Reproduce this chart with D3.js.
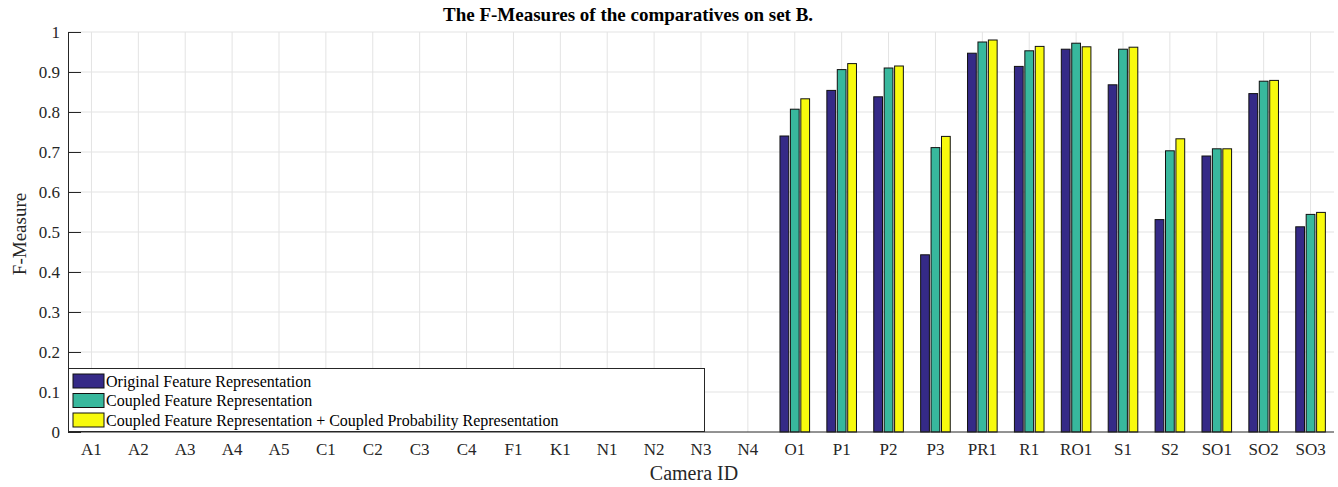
<!DOCTYPE html>
<html>
<head>
<meta charset="utf-8">
<script src="https://cdn.jsdelivr.net/npm/d3@7"></script>
<style>
body { margin: 0; background: #fff; }
text { font-family: "Liberation Serif", "DejaVu Serif", serif; }
</style>
</head>
<body>
<div id="chart"><svg width="1338" height="487"></svg></div>
<script>
var WIDTH = 1338;
var HEIGHT = 487;

var cameras = ['A1','A2','A3','A4','A5','C1','C2','C3','C4','F1','K1','N1','N2','N3','N4',
	'O1','P1','P2','P3','PR1','R1','RO1','S1','S2','SO1','SO2','SO3'];

var seriesNames = ['Original Feature Representation', 'Coupled Feature Representation',
	'Coupled Feature Representation + Coupled Probability Representation'];

var original = [0,0,0,0,0,0,0,0,0,0,0,0,0,0,0,
	0.740,0.854,0.838,0.443,0.947,0.914,0.957,0.868,0.531,0.690,0.846,0.513];
var coupled = [0,0,0,0,0,0,0,0,0,0,0,0,0,0,0,
	0.807,0.906,0.910,0.711,0.975,0.953,0.972,0.957,0.703,0.708,0.877,0.544];
var coupledProb = [0,0,0,0,0,0,0,0,0,0,0,0,0,0,0,
	0.833,0.921,0.915,0.739,0.980,0.964,0.963,0.962,0.733,0.708,0.879,0.549];

var yTicks = [0,0.1,0.2,0.3,0.4,0.5,0.6,0.7,0.8,0.9,1];
var colors = ['#352a87', '#38b89d', '#f8fa0d'];

var margin = {left: 68, right: 4, top: 32, bottom: 55};

function init() {
	var svg = d3.select('#chart').select('svg');
	var series = [original, coupled, coupledProb];

	var x = d3.scaleBand()
		.domain(cameras)
		.range([margin.left, WIDTH - margin.right])
		.paddingInner(0)
		.paddingOuter(0);

	var y = d3.scaleLinear()
		.domain([0, 1])
		.range([HEIGHT - margin.bottom, margin.top]);

	var step = x.bandwidth();
	var groupWidth = step * 0.667;
	var slot = groupWidth / 3;

	// grid
	svg.append('g').selectAll('line.h')
		.data(yTicks.slice(1))
		.enter().append('line')
		.attr('x1', margin.left).attr('x2', WIDTH - margin.right)
		.attr('y1', function(d) { return y(d); }).attr('y2', function(d) { return y(d); })
		.attr('stroke', '#e3e3e3').attr('stroke-width', 1);

	svg.append('g').selectAll('line.v')
		.data(cameras)
		.enter().append('line')
		.attr('x1', function(d) { return x(d) + step/2; })
		.attr('x2', function(d) { return x(d) + step/2; })
		.attr('y1', margin.top).attr('y2', y(0))
		.attr('stroke', '#e3e3e3').attr('stroke-width', 1);

	// bars
	series.forEach(function(vals, i) {
		svg.append('g').selectAll('rect')
			.data(vals)
			.enter().append('rect')
			.attr('x', function(d, j) { return x(cameras[j]) + step/2 - groupWidth/2 + i*slot + slot*0.08; })
			.attr('width', slot*0.84)
			.attr('y', function(d) { return y(d); })
			.attr('height', function(d) { return y(0) - y(d); })
			.attr('fill', colors[i])
			.attr('stroke', '#111')
			.attr('stroke-width', 1);
	});

	// axes
	var yAxis = d3.axisLeft(y).tickValues(yTicks).tickSize(-13).tickPadding(22)
		.tickFormat(function(d) { return d === 0 || d === 1 ? d : d3.format('.1f')(d); });
	var gy = svg.append('g')
		.attr('transform', 'translate(' + margin.left + ',0)')
		.call(yAxis);
	gy.select('.domain').attr('stroke', '#262626');
	gy.selectAll('.tick line').attr('stroke', '#262626');
	gy.selectAll('.tick text').attr('fill', '#262626').style('font-size', '17px')
		.attr('x', -8);

	var xAxis = d3.axisBottom(x).tickSize(0).tickPadding(11);
	var gx = svg.append('g')
		.attr('transform', 'translate(0,' + y(0) + ')')
		.call(xAxis);
	gx.select('.domain').attr('stroke', '#262626').attr('d', 'M' + margin.left + ',0H' + (WIDTH - margin.right));
	gx.selectAll('.tick text').attr('fill', '#262626').style('font-size', '17px');

	// legend
	var lg = svg.append('g');
	lg.append('rect')
		.attr('x', margin.left + 0.5).attr('y', 368.5)
		.attr('width', 636).attr('height', 63)
		.attr('fill', '#fff').attr('stroke', '#262626').attr('stroke-width', 1);
	seriesNames.forEach(function(name, i) {
		var cy = 381 + i*19.5;
		lg.append('rect')
			.attr('x', 73).attr('y', cy - 7)
			.attr('width', 31).attr('height', 14)
			.attr('fill', colors[i]).attr('stroke', '#111').attr('stroke-width', 1);
		lg.append('text')
			.attr('x', 106).attr('y', cy + 5.5)
			.style('font-size', '16px').attr('fill', '#000')
			.text(name);
	});

	// labels
	svg.append('text')
		.attr('x', 443).attr('y', 21)
		.attr('text-anchor', 'start')
		.style('font-size', '19px').style('font-weight', 'bold')
		.text('The F-Measures of the comparatives on set B.');

	svg.append('text')
		.attr('x', 694).attr('y', 480)
		.attr('text-anchor', 'middle')
		.attr('fill', '#262626')
		.style('font-size', '20px')
		.text('Camera ID');

	svg.append('text')
		.attr('transform', 'translate(26,234) rotate(-90)')
		.attr('text-anchor', 'middle')
		.attr('fill', '#262626')
		.style('font-size', '19px')
		.text('F-Measure');
}

init();
</script>
</body>
</html>
